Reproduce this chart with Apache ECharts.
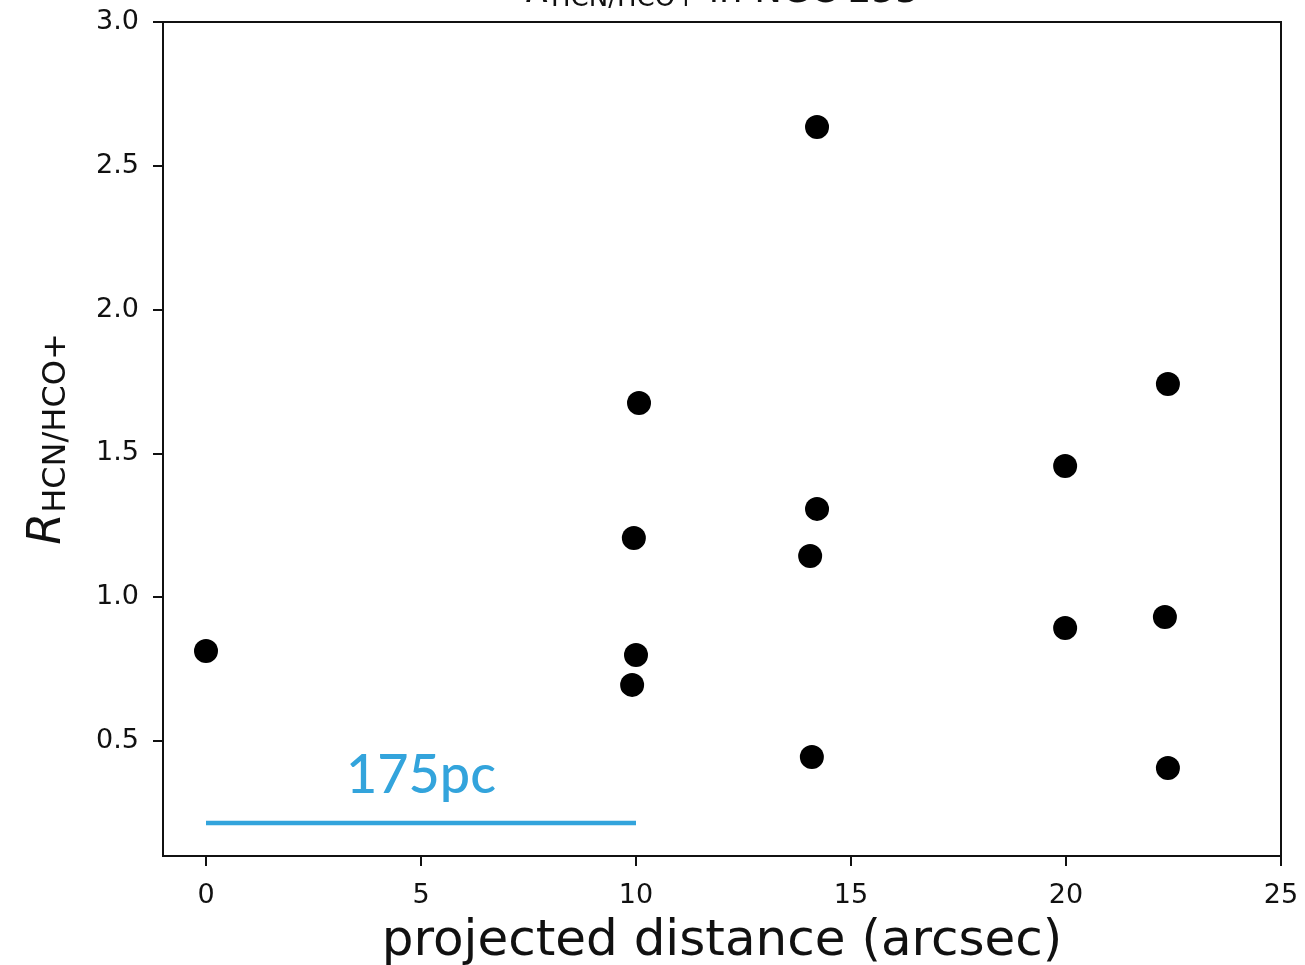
<!DOCTYPE html>
<html>
<head>
<meta charset="utf-8">
<title>R HCN/HCO+ in NGC 253</title>
<script src="https://cdn.jsdelivr.net/npm/echarts@6/dist/echarts.min.js"></script>
<style>
  html, body { margin: 0; padding: 0; background: #fff; }
  #chart { width: 1305px; height: 965px; }
</style>
</head>
<body>
<div id="chart"></div>
<script>
// Projected distance from the nucleus (arcsec) and the HCN/HCO+ line ratio
const distances = [0.0, 10.07, 9.95, 10.0, 9.91, 14.21, 14.21, 14.05, 14.09, 19.98, 19.98, 22.37, 22.30, 22.37];
const ratios    = [0.813, 1.675, 1.206, 0.799, 0.695, 2.635, 1.307, 1.143, 0.444, 1.456, 0.893, 1.741, 0.931, 0.406];

// Axis ranges and tick positions
const xRange = [-1, 25];
const yRange = [0.1, 3.0];
const xTicks = [0, 5, 10, 15, 20, 25];
const yTicks = [0.5, 1.0, 1.5, 2.0, 2.5, 3.0];

// Physical scale bar: 10 arcsec = 175 pc
const scaleBarX = [0, 10];
const scaleBarY = 0.215;
const scaleBarText = '175pc';

const FONT = 'DejaVu Sans';
const BLUE = '#33a4dc';
const INK = '#111';

const chart = echarts.init(document.getElementById('chart'), null, { renderer: 'canvas' });

chart.setOption({
  animation: false,
  backgroundColor: '#fff',
  textStyle: { fontFamily: FONT },
  grid: {
    left: 163, right: 24, top: 22, bottom: 109,
    show: true, borderColor: INK, borderWidth: 2,
    containLabel: false, outerBoundsMode: 'none'
  },
  graphic: [{
    type: 'text',
    x: 722,
    y: -28,
    style: {
      text: '{r|R}{s|HCN/HCO+}{n| in NGC 253}',
      align: 'center',
      verticalAlign: 'top',
      fill: INK,
      rich: {
        r: { fontFamily: FONT, fontSize: 37, fontStyle: 'italic', lineHeight: 40 },
        s: { fontFamily: FONT, fontSize: 26, lineHeight: 20, verticalAlign: 'bottom' },
        n: { fontFamily: FONT, fontSize: 37, lineHeight: 40 }
      }
    }
  }],
  xAxis: {
    type: 'value',
    min: xRange[0],
    max: xRange[1],
    name: 'projected distance (arcsec)',
    nameLocation: 'middle',
    nameGap: 61,
    nameTextStyle: { fontFamily: FONT, fontSize: 50, color: INK },
    axisLine: { show: true, onZero: false, lineStyle: { color: INK, width: 2 } },
    axisTick: { show: true, length: 10, customValues: xTicks, lineStyle: { color: INK, width: 2 } },
    axisLabel: { customValues: xTicks, fontFamily: FONT, fontSize: 27, color: INK, margin: 26 },
    splitLine: { show: false }
  },
  yAxis: {
    type: 'value',
    min: yRange[0],
    max: yRange[1],
    name: '{r|R}{s|HCN/HCO+}',
    nameLocation: 'middle',
    nameRotate: 90,
    nameGap: 90,
    nameTextStyle: {
      color: INK,
      rich: {
        r: { fontFamily: FONT, fontSize: 46, fontStyle: 'italic', lineHeight: 50 },
        s: { fontFamily: FONT, fontSize: 32, lineHeight: 28, verticalAlign: 'bottom' }
      }
    },
    axisLine: { show: true, onZero: false, lineStyle: { color: INK, width: 2 } },
    axisTick: { show: true, length: 10, customValues: yTicks, lineStyle: { color: INK, width: 2 } },
    axisLabel: {
      customValues: yTicks,
      fontFamily: FONT, fontSize: 27, color: INK, margin: 24,
      padding: [6, 0, 0, 0],
      formatter: v => v.toFixed(1)
    },
    splitLine: { show: false }
  },
  series: [
    {
      name: 'ratio',
      type: 'scatter',
      data: distances.map((d, i) => [d, ratios[i]]),
      symbol: 'circle',
      symbolSize: 24,
      itemStyle: { color: '#000', opacity: 1 },
      emphasis: { disabled: true },
      z: 3
    },
    {
      name: 'scale bar',
      type: 'line',
      data: scaleBarX.map(x => [x, scaleBarY]),
      showSymbol: false,
      symbol: 'none',
      lineStyle: { color: BLUE, width: 4.5, opacity: 1 },
      silent: true,
      z: 2
    },
    {
      name: 'scale label',
      type: 'scatter',
      data: [[(scaleBarX[0] + scaleBarX[1]) / 2, scaleBarY]],
      symbolSize: 1,
      itemStyle: { color: BLUE, opacity: 0 },
      label: {
        show: true,
        position: 'top',
        distance: 20,
        formatter: scaleBarText,
        fontFamily: 'Lato',
        fontWeight: 500,
        fontSize: 54,
        color: BLUE,
        opacity: 1
      },
      silent: true,
      z: 2
    }
  ]
});
</script>
</body>
</html>
